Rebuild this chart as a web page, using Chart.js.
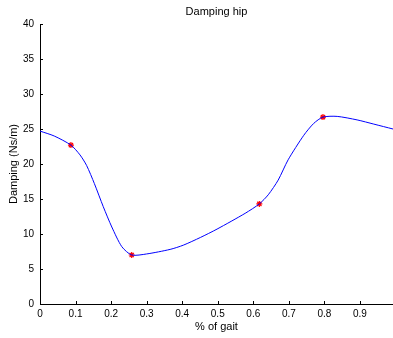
<!DOCTYPE html>
<html><head><meta charset="utf-8">
<script src="https://cdn.jsdelivr.net/npm/chart.js@4/dist/chart.umd.min.js"></script>
<style>html,body{margin:0;padding:0;background:#fff}#wrap{width:393px;height:338px}</style>
</head><body><div id="wrap"><canvas id="c" width="393" height="338"></canvas></div>
<script>
const gaitPct = [0, 0.04, 0.087, 0.1125, 0.131, 0.153, 0.178, 0.202, 0.230, 0.258, 0.30, 0.366, 0.403, 0.451, 0.498, 0.577, 0.617, 0.642, 0.670, 0.698, 0.742, 0.770, 0.796, 0.836, 0.892, 0.939, 0.993];
const damping = [24.7, 24.0, 22.7, 21.3, 19.8, 17.2, 13.9, 11.0, 8.2, 7.0, 7.15, 7.8, 8.4, 9.5, 10.7, 12.95, 14.3, 15.6, 17.7, 20.6, 24.1, 25.8, 26.7, 26.8, 26.3, 25.7, 25.0];
const markerX = [0.087, 0.258, 0.617, 0.796];
const markerY = [22.7, 7.0, 14.3, 26.7];
const xTicks = [0, 0.1, 0.2, 0.3, 0.4, 0.5, 0.6, 0.7, 0.8, 0.9];
const yTicks = [0, 5, 10, 15, 20, 25, 30, 35, 40];
const titleText = 'Damping hip';

const FONT = "'Liberation Sans', Arial, sans-serif";
const innerTicks = {
  id: 'innerTicks',
  afterDatasetsDraw(chart) {
    const ctx = chart.ctx, xs = chart.scales.x, ys = chart.scales.y, a = chart.chartArea;
    ctx.save();
    ctx.strokeStyle = '#000'; ctx.lineWidth = 1;
    ctx.beginPath();
    xTicks.forEach(v => { const p = Math.round(xs.getPixelForValue(v)) + 0.5; ctx.moveTo(p, ys.bottom); ctx.lineTo(p, ys.bottom - 3); });
    yTicks.forEach(v => { const p = Math.round(ys.getPixelForValue(v)) + 0.5; ctx.moveTo(xs.left, p); ctx.lineTo(xs.left + 3, p); });
    ctx.stroke();
    ctx.fillStyle = '#000';
    ctx.font = "11px " + FONT;
    ctx.textAlign = 'center'; ctx.textBaseline = 'middle';
    ctx.fillText(titleText, (a.left + a.right) / 2, 12);
    ctx.restore();
  }
};

new Chart(document.getElementById('c'), {
  type: 'scatter',
  data: {
    datasets: [
      { data: gaitPct.map((x, i) => ({x, y: damping[i]})), showLine: true, borderColor: '#0000ff', borderWidth: 1, pointRadius: 0, tension: 0.25, fill: false },
      { data: markerX.map((x, i) => ({x, y: markerY[i]})), showLine: false, pointStyle: 'star', pointRadius: 3, borderColor: '#ff0000', backgroundColor: '#ff0000', borderWidth: 1.2 }
    ]
  },
  options: {
    responsive: false, animation: false, devicePixelRatio: 1,
    layout: { autoPadding: false, padding: { top: 24, left: 0, right: 0, bottom: 0 } },
    plugins: { legend: { display: false }, tooltip: { enabled: false }, title: { display: false } },
    scales: {
      x: {
        type: 'linear', min: 0, max: 0.993,
        afterFit: s => { s.height = 34; s.paddingRight = 0; s.paddingLeft = 0; },
        afterBuildTicks: s => { s.ticks = xTicks.map(v => ({value: v})); },
        ticks: { color: '#000', font: { family: FONT, size: 10 }, padding: 4, maxRotation: 0, callback: v => String(v) },
        grid: { display: true, drawOnChartArea: false, drawTicks: false },
        border: { display: true, color: '#000', width: 1 },
        title: { display: true, text: '% of gait', color: '#000', font: { family: FONT, size: 11 }, padding: { top: 0, bottom: 4 } }
      },
      y: {
        type: 'linear', min: 0, max: 40,
        afterFit: s => { s.width = 40; },
        afterBuildTicks: s => { s.ticks = yTicks.map(v => ({value: v})); },
        ticks: { color: '#000', font: { family: FONT, size: 10 }, padding: 6 },
        grid: { display: true, drawOnChartArea: false, drawTicks: false },
        border: { display: true, color: '#000', width: 1 },
        title: { display: true, text: 'Damping (Ns/m)', color: '#000', font: { family: FONT, size: 11 }, padding: { top: 7, bottom: 2 } }
      }
    }
  },
  plugins: [innerTicks]
});
</script></body></html>
